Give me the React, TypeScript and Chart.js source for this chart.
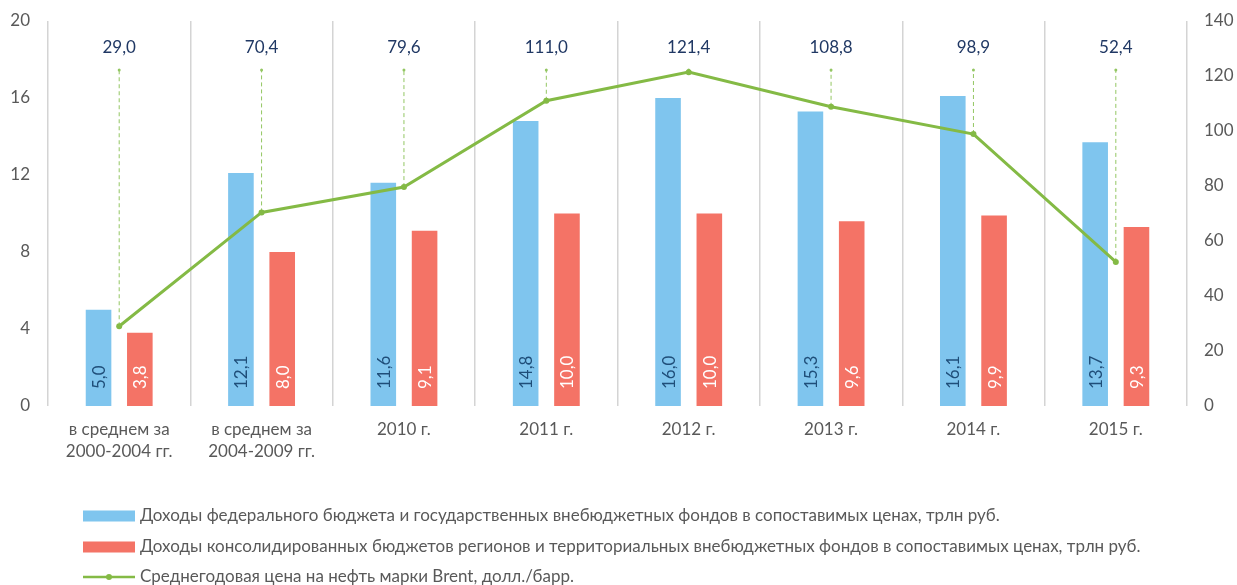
import React, { useEffect, useRef } from 'react';
import { Chart, registerables } from 'chart.js';

Chart.register(...registerables);

const categories: (string | string[])[] = [
  ['в среднем за', '2000-2004 гг.'],
  ['в среднем за', '2004-2009 гг.'],
  '2010 г.',
  '2011 г.',
  '2012 г.',
  '2013 г.',
  '2014 г.',
  '2015 г.',
];
const federalRevenue = [5.0, 12.1, 11.6, 14.8, 16.0, 15.3, 16.1, 13.7];
const regionalRevenue = [3.8, 8.0, 9.1, 10.0, 10.0, 9.6, 9.9, 9.3];
const brentPrice = [29.0, 70.4, 79.6, 111.0, 121.4, 108.8, 98.9, 52.4];
const seriesLabels = [
  'Доходы федерального бюджета и государственных внебюджетных фондов в сопоставимых ценах, трлн руб.',
  'Доходы консолидированных бюджетов регионов и территориальных внебюджетных фондов в сопоставимых ценах, трлн руб.',
  'Среднегодовая цена на нефть марки Brent, долл./барр.',
];
const leftAxis = { min: 0, max: 20, step: 4 };
const rightAxis = { min: 0, max: 140, step: 20 };

const FONT = 'Lato, "Open Sans", sans-serif';
const BLUE = '#7FC5EE';
const RED = '#F47366';
const GREEN = '#84BA45';
const GRAY = '#595959';

const fmt = (v: number) => v.toFixed(1).replace('.', ',');

const annotatePlugin = {
  id: 'annotate',
  beforeDatasetsDraw(chart: any) {
    const ctx = chart.ctx;
    const meta = chart.getDatasetMeta(2);
    const topY = chart.chartArea.top + 49;
    ctx.save();
    ctx.strokeStyle = '#93C662';
    ctx.fillStyle = '#93C662';
    ctx.lineWidth = 1;
    ctx.setLineDash([4, 3]);
    meta.data.forEach((pt: any) => {
      ctx.beginPath();
      ctx.moveTo(pt.x, pt.y);
      ctx.lineTo(pt.x, topY);
      ctx.stroke();
    });
    ctx.setLineDash([]);
    meta.data.forEach((pt: any) => {
      ctx.beginPath();
      ctx.arc(pt.x, topY, 1.5, 0, Math.PI * 2);
      ctx.fill();
    });
    ctx.restore();
  },
  afterDatasetsDraw(chart: any) {
    const ctx = chart.ctx;
    ctx.save();
    const meta = chart.getDatasetMeta(2);
    ctx.font = `17px ${FONT}`;
    ctx.fillStyle = '#203864';
    ctx.textAlign = 'center';
    ctx.textBaseline = 'middle';
    meta.data.forEach((pt: any, i: number) => {
      ctx.fillText(fmt(brentPrice[i]), pt.x, chart.chartArea.top + 27);
    });
    [0, 1].forEach((di) => {
      const m = chart.getDatasetMeta(di);
      const vals = di === 0 ? federalRevenue : regionalRevenue;
      ctx.fillStyle = di === 0 ? '#1F4E79' : '#FFFFFF';
      m.data.forEach((bar: any, i: number) => {
        ctx.save();
        ctx.translate(bar.x, bar.base - 17);
        ctx.rotate(-Math.PI / 2);
        ctx.textAlign = 'left';
        ctx.textBaseline = 'middle';
        ctx.fillText(fmt(vals[i]), 0, 1);
        ctx.restore();
      });
    });
    ctx.restore();
  },
  afterDraw(chart: any) {
    const ctx = chart.ctx;
    ctx.save();
    const x0 = 83;
    const rows = [516, 547, 577];
    ctx.font = `17px ${FONT}`;
    ctx.textBaseline = 'middle';
    ctx.textAlign = 'left';
    rows.forEach((y, i) => {
      if (i < 2) {
        ctx.fillStyle = i === 0 ? BLUE : RED;
        ctx.fillRect(x0, y - 5.5, 52, 11);
      } else {
        ctx.strokeStyle = GREEN;
        ctx.lineWidth = 2.5;
        ctx.beginPath();
        ctx.moveTo(x0, y);
        ctx.lineTo(x0 + 52, y);
        ctx.stroke();
        ctx.fillStyle = GREEN;
        ctx.beginPath();
        ctx.arc(x0 + 26, y, 3, 0, Math.PI * 2);
        ctx.fill();
      }
      ctx.fillStyle = GRAY;
      ctx.fillText(seriesLabels[i], x0 + 57, y);
    });
    ctx.restore();
  },
};

export default function App() {
  const ref = useRef<HTMLCanvasElement>(null);
  useEffect(() => {
    if (!ref.current) return;
    const chart = new Chart(ref.current, {
      type: 'bar',
      data: {
        labels: categories as any,
        datasets: [
          {
            label: seriesLabels[0],
            data: federalRevenue,
            backgroundColor: BLUE,
            yAxisID: 'y',
            categoryPercentage: 0.58,
            barPercentage: 0.62,
            order: 1,
          },
          {
            label: seriesLabels[1],
            data: regionalRevenue,
            backgroundColor: RED,
            yAxisID: 'y',
            categoryPercentage: 0.58,
            barPercentage: 0.62,
            order: 1,
          },
          {
            type: 'line',
            label: seriesLabels[2],
            data: brentPrice,
            borderColor: GREEN,
            backgroundColor: GREEN,
            borderWidth: 3,
            pointRadius: 3,
            pointBackgroundColor: GREEN,
            pointBorderWidth: 0,
            tension: 0,
            yAxisID: 'y1',
            order: -1,
          } as any,
        ],
      },
      options: {
        animation: false,
        responsive: true,
        maintainAspectRatio: false,
        layout: { padding: { top: 21, left: 0, right: 0, bottom: 0 } },
        plugins: {
          legend: { display: false },
          tooltip: { enabled: false },
        },
        scales: {
          x: {
            grid: { display: true, color: '#D4D4D4', lineWidth: 1.5, drawTicks: false, offset: true },
            border: { display: false },
            ticks: {
              color: GRAY,
              font: { family: FONT, size: 17, lineHeight: 1.3 },
              padding: 12,
              maxRotation: 0,
              autoSkip: false,
            },
            afterFit(scale: any) {
              scale.height = 179;
            },
          },
          y: {
            position: 'left',
            min: leftAxis.min,
            max: leftAxis.max,
            grid: { display: false, drawTicks: false },
            border: { display: false },
            ticks: {
              stepSize: leftAxis.step,
              color: GRAY,
              font: { family: FONT, size: 17 },
              padding: 18,
            },
            afterFit(scale: any) {
              scale.width = 48;
              scale.paddingTop = 0;
              scale.paddingBottom = 0;
            },
          },
          y1: {
            position: 'right',
            min: rightAxis.min,
            max: rightAxis.max,
            grid: { display: false, drawTicks: false },
            border: { display: false },
            ticks: {
              stepSize: rightAxis.step,
              color: GRAY,
              font: { family: FONT, size: 17 },
              padding: 17,
            },
            afterFit(scale: any) {
              scale.width = 50;
              scale.paddingTop = 0;
              scale.paddingBottom = 0;
            },
          },
        },
      },
      plugins: [annotatePlugin],
    });
    return () => chart.destroy();
  }, []);
  return (
    <div style={{ position: 'fixed', left: 0, top: 0, width: '100vw', height: '100vh', background: '#fff' }}>
      <canvas ref={ref} />
    </div>
  );
}
